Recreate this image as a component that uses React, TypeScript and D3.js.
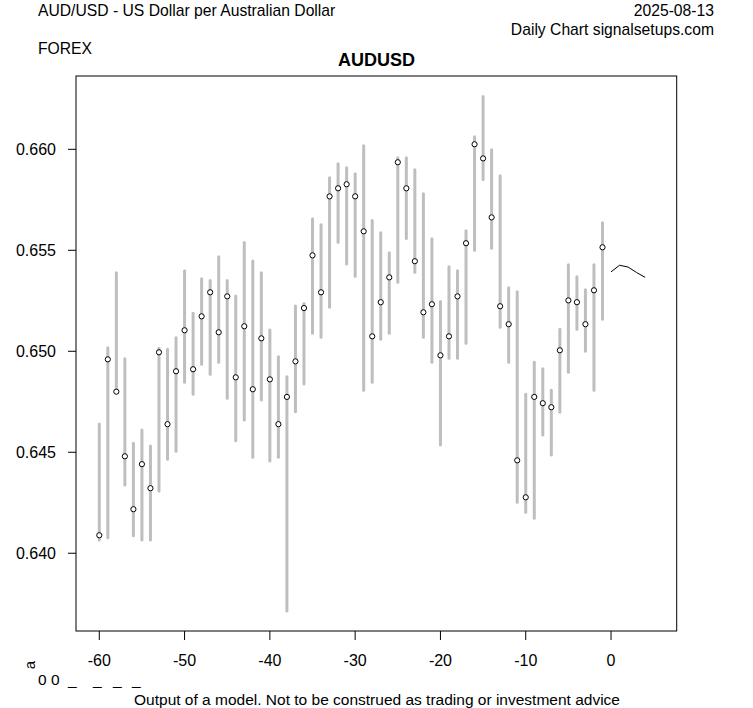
import React from "react";
import * as d3 from "d3";

const days = [-60,-59,-58,-57,-56,-55,-54,-53,-52,-51,-50,-49,-48,-47,-46,-45,-44,-43,-42,-41,-40,-39,-38,-37,-36,-35,-34,-33,-32,-31,-30,-29,-28,-27,-26,-25,-24,-23,-22,-21,-20,-19,-18,-17,-16,-15,-14,-13,-12,-11,-10,-9,-8,-7,-6,-5,-4,-3,-2,-1];
const highs = [0.64640,0.65018,0.65389,0.64963,0.64545,0.64610,0.64531,0.65015,0.65010,0.65067,0.65399,0.65188,0.65359,0.65350,0.65468,0.65350,0.65274,0.65538,0.65447,0.65389,0.65105,0.64973,0.64874,0.65224,0.65236,0.65656,0.65627,0.65859,0.65929,0.65909,0.65879,0.66018,0.65647,0.65587,0.65488,0.65958,0.65958,0.65899,0.65780,0.65557,0.65246,0.65419,0.65399,0.65597,0.66062,0.66262,0.65998,0.65869,0.65315,0.65295,0.64787,0.64946,0.64914,0.64807,0.65109,0.65429,0.65369,0.65305,0.65429,0.65637];
const lows = [0.64066,0.64077,0.64795,0.64338,0.64086,0.64066,0.64066,0.64308,0.64465,0.64505,0.64847,0.64787,0.64936,0.64886,0.64946,0.64767,0.64557,0.64660,0.64475,0.64759,0.64457,0.64475,0.63714,0.64700,0.64838,0.65089,0.65069,0.65218,0.65540,0.65432,0.65371,0.64807,0.64847,0.65059,0.65089,0.65342,0.65559,0.65391,0.65069,0.64946,0.64536,0.64965,0.64965,0.65040,0.65500,0.65851,0.65510,0.65119,0.64946,0.64252,0.64203,0.64173,0.64586,0.64487,0.64698,0.64896,0.65109,0.65000,0.64807,0.65158];
const closes = [0.64089,0.64960,0.64800,0.64480,0.64218,0.64441,0.64322,0.64995,0.64639,0.64901,0.65104,0.64911,0.65173,0.65292,0.65094,0.65272,0.64871,0.65124,0.64812,0.65064,0.64861,0.64639,0.64774,0.64950,0.65214,0.65475,0.65292,0.65767,0.65807,0.65827,0.65767,0.65594,0.65074,0.65243,0.65366,0.65936,0.65807,0.65446,0.65193,0.65233,0.64980,0.65074,0.65272,0.65535,0.66025,0.65955,0.65663,0.65223,0.65134,0.64460,0.64277,0.64774,0.64743,0.64723,0.65005,0.65252,0.65243,0.65134,0.65302,0.65515];
const forecastDays = [0, 1, 2, 3, 4];
const forecastValues = [0.65393, 0.65426, 0.65417, 0.65390, 0.65366];
const yTicks = [0.640, 0.645, 0.650, 0.655, 0.660];
const xTicks = [-60, -50, -40, -30, -20, -10, 0];

const FONT = "'Liberation Sans', Arial, sans-serif";

export default function App() {
  const W = 753, H = 708;
  const L = 76, R = 676.7, T = 76, B = 631;
  const x = d3.scaleLinear().domain([-62.73, 7.70]).range([L, R]);
  const y = d3.scaleLinear().domain([0.63615, 0.66363]).range([B, T]);
  const line = d3.line<number>()
    .x((_, i) => x(forecastDays[i]))
    .y((d) => y(d));
  return (
    <svg width={W} height={H} style={{ position: "absolute", left: 0, top: 0, background: "#fff" }} fontFamily={FONT}>
      <rect x={0} y={0} width={W} height={H} fill="#fff" />
      <text x={38} y={16} fontSize={15.7}>AUD/USD - US Dollar per Australian Dollar</text>
      <text x={714} y={16} fontSize={15.7} textAnchor="end">2025-08-13</text>
      <text x={714} y={35} fontSize={15.7} textAnchor="end">Daily Chart signalsetups.com</text>
      <text x={38} y={54} fontSize={15.7}>FOREX</text>
      <text x={376.5} y={66} fontSize={18} fontWeight="bold" textAnchor="middle">AUDUSD</text>

      {days.map((d, i) => (
        <line key={"b" + i} x1={x(d)} x2={x(d)} y1={y(highs[i])} y2={y(lows[i])}
          stroke="#bebebe" strokeWidth={3} strokeLinecap="round" />
      ))}
      {days.map((d, i) => (
        <circle key={"c" + i} cx={x(d)} cy={y(closes[i])} r={2.6} fill="#fff" stroke="#000" strokeWidth={1} />
      ))}
      <path d={line(forecastValues) || ""} fill="none" stroke="#000" strokeWidth={1} />

      <rect x={L} y={T} width={R - L} height={B - T} fill="none" stroke="#000" strokeWidth={1} />

      {yTicks.map((t) => (
        <g key={"y" + t}>
          <line x1={L - 8} x2={L} y1={y(t)} y2={y(t)} stroke="#000" />
          <text x={56} y={y(t)} dy="0.36em" fontSize={16} textAnchor="end">{t.toFixed(3)}</text>
        </g>
      ))}
      {xTicks.map((t) => (
        <g key={"x" + t}>
          <line x1={x(t)} x2={x(t)} y1={B} y2={B + 9} stroke="#000" />
          <text x={x(t)} y={666} fontSize={16} textAnchor="middle">{t}</text>
        </g>
      ))}

      <text transform="translate(35,665) rotate(-90)" fontSize={15} textAnchor="middle">a</text>
      <text x={38} y={685} fontSize={15.5}>0 0</text>
      <text x={68} y={685} fontSize={15.5}>_</text>
      <text x={93} y={685} fontSize={15.5}>_</text>
      <text x={113} y={685} fontSize={15.5}>_</text>
      <text x={132} y={685} fontSize={15.5}>_</text>
      <text x={377} y={705} fontSize={15.5} textAnchor="middle">Output of a model. Not to be construed as trading or investment advice</text>
    </svg>
  );
}
